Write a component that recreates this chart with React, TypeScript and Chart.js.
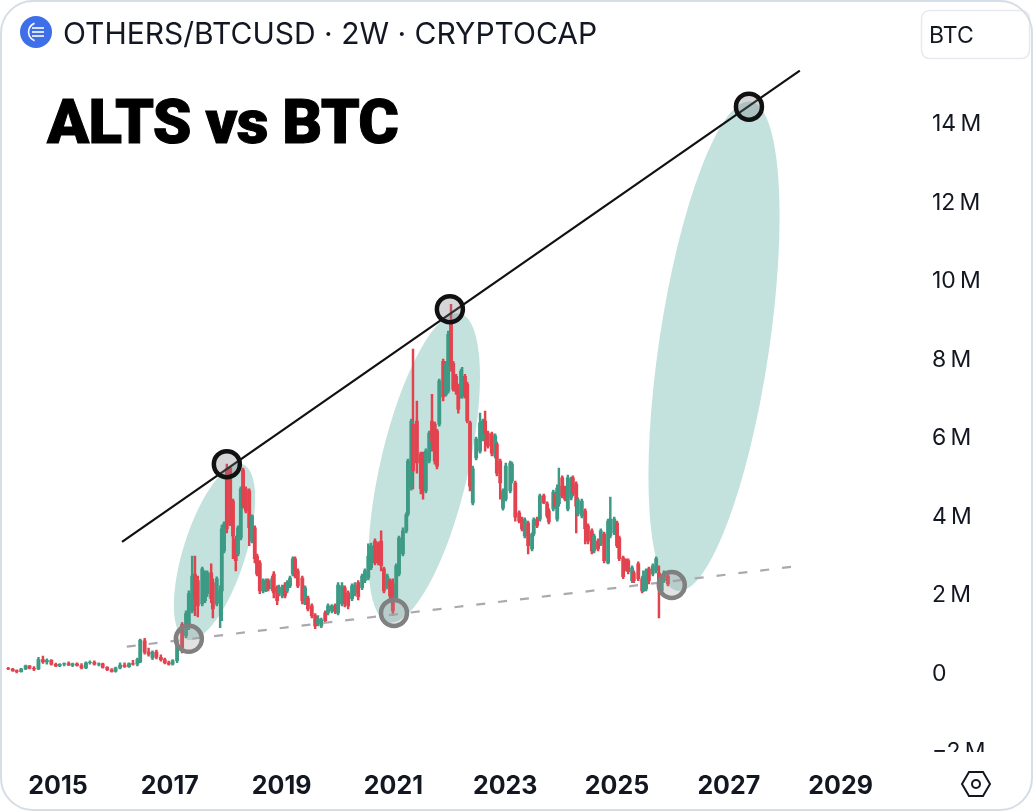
import React, { useEffect, useRef } from "react";
import { Chart, registerables } from "chart.js";

Chart.register(...registerables);

const CHART_TITLE = "OTHERS/BTCUSD · 2W · CRYPTOCAP";
const HEADLINE = "ALTS vs BTC";
const CURRENCY = "BTC";

const xTickYears = [2015, 2017, 2019, 2021, 2023, 2025, 2027, 2029];
const yTickValues = [-2, 0, 2, 4, 6, 8, 10, 12, 14];

const candleYears = [
  2014.11,2014.19,2014.26,2014.34,2014.42,2014.49,2014.57,2014.65,2014.73,2014.80,
  2014.88,2014.96,2015.03,2015.11,2015.19,2015.26,2015.34,2015.42,2015.50,2015.57,
  2015.65,2015.73,2015.80,2015.88,2015.96,2016.03,2016.11,2016.19,2016.27,2016.34,
  2016.42,2016.47,2016.55,2016.62,2016.69,2016.76,2016.84,2016.91,2016.98,2017.05,
  2017.13,2017.22,2017.29,2017.34,2017.40,2017.45,2017.50,2017.58,2017.63,2017.67,
  2017.74,2017.77,2017.84,2017.90,2017.93,2017.97,2018.02,2018.08,2018.13,2018.18,
  2018.22,2018.27,2018.31,2018.36,2018.42,2018.47,2018.52,2018.56,2018.61,2018.67,
  2018.72,2018.76,2018.83,2018.86,2018.92,2018.95,2019.01,2019.06,2019.10,2019.15,
  2019.20,2019.24,2019.29,2019.37,2019.42,2019.47,2019.54,2019.60,2019.65,2019.71,
  2019.78,2019.83,2019.90,2019.96,2020.01,2020.08,2020.13,2020.19,2020.26,2020.31,
  2020.37,2020.44,2020.49,2020.55,2020.60,2020.67,2020.73,2020.78,2020.83,2020.89,
  2020.94,2020.99,2021.05,2021.10,2021.17,2021.23,2021.26,2021.32,2021.35,2021.42,
  2021.49,2021.53,2021.58,2021.64,2021.69,2021.74,2021.78,2021.82,2021.89,2021.94,
  2021.98,2022.03,2022.07,2022.12,2022.16,2022.21,2022.23,2022.28,2022.32,2022.37,
  2022.42,2022.48,2022.55,2022.60,2022.64,2022.69,2022.76,2022.82,2022.85,2022.91,
  2022.96,2023.01,2023.09,2023.12,2023.18,2023.25,2023.30,2023.35,2023.41,2023.48,
  2023.51,2023.57,2023.62,2023.69,2023.75,2023.78,2023.86,2023.89,2023.93,2023.96,
  2024.02,2024.07,2024.12,2024.18,2024.21,2024.27,2024.30,2024.37,2024.43,2024.48,
  2024.55,2024.59,2024.66,2024.71,2024.77,2024.84,2024.88,2024.95,2025.00,2025.04,
  2025.11,2025.16,2025.20,2025.27,2025.30,2025.38,2025.45,2025.47,2025.52,2025.57,
  2025.64,2025.70,2025.75,2025.80,2025.84,2025.91,
];

const candleOpens = [
  .13,.12,.08,.05,.12,.20,.14,.12,.36,.30,
  .34,.24,.20,.24,.26,.22,.25,.21,.15,.28,
  .29,.24,.25,.16,.10,.06,.15,.22,.18,.26,
  .24,.30,.84,.55,.40,.55,.42,.36,.28,.24,
  .33,1.25,.97,1.17,1.60,2.54,2.37,1.78,1.86,2.04,
  2.57,2.32,1.78,1.81,2.11,3.13,5.22,5.24,4.40,3.44,
  3.05,3.46,5.19,4.71,4.66,3.38,3.72,3.00,2.82,2.11,
  2.11,2.37,2.16,2.54,2.19,2.04,1.98,2.26,2.11,2.24,
  2.54,2.93,2.62,2.44,1.78,1.93,1.73,1.48,1.27,1.22,
  1.55,1.55,1.60,1.73,1.55,1.78,2.19,2.06,1.91,2.04,
  2.32,2.19,2.37,2.44,2.70,3.38,3.31,3.38,2.67,2.21,
  2.37,2.29,1.93,2.54,3.05,3.64,4.07,4.73,6.36,6.44,
  5.60,5.60,4.66,5.42,6.44,6.36,6.18,6.36,7.96,7.12,
  7.20,8.98,7.91,7.58,7.33,7.07,7.07,7.58,7.38,6.39,
  4.35,5.50,5.67,5.98,6.44,6.13,6.11,5.55,5.85,5.42,
  4.22,4.45,4.66,4.91,4.86,4.10,3.94,3.51,3.84,3.18,
  3.56,3.94,3.94,4.53,4.33,4.15,4.20,4.58,3.94,4.33,
  4.99,4.73,4.20,4.48,4.99,4.83,4.07,4.02,4.15,3.77,
  3.64,3.13,3.38,3.31,3.56,2.82,3.51,3.59,3.84,3.46,
  2.95,2.88,2.88,2.37,2.57,2.80,2.42,2.11,2.16,2.67,
  2.54,2.62,2.57,2.11,2.37,2.49,
];

const candleHighs = [
  .16,.14,.10,.14,.22,.21,.18,.42,.45,.38,
  .36,.27,.26,.28,.30,.27,.28,.26,.30,.33,
  .33,.28,.27,.18,.13,.17,.28,.28,.28,.34,
  .40,.88,.90,.65,.58,.60,.48,.40,.32,.36,
  .89,1.30,1.60,2.11,3.00,3.00,2.49,2.72,2.62,2.62,
  2.80,2.42,2.47,2.24,3.79,3.87,5.34,5.27,4.45,3.51,
  3.77,4.76,5.24,4.76,4.71,4.05,3.77,3.05,2.88,2.42,
  2.42,2.42,2.49,2.60,2.24,2.26,2.26,2.32,2.37,2.49,
  2.98,2.98,2.67,2.49,2.24,1.98,1.78,1.53,1.48,1.42,
  1.60,1.78,1.76,1.78,2.32,2.32,2.24,2.11,2.29,2.32,
  2.37,2.54,2.67,3.31,3.33,3.44,3.36,3.64,2.72,2.54,
  2.42,2.42,2.80,3.51,3.72,4.10,5.47,6.49,8.27,6.95,
  5.65,5.65,5.73,6.18,7.12,6.41,6.23,7.51,8.02,7.96,
  8.73,9.41,7.96,7.63,7.38,7.76,7.81,7.63,7.43,6.44,
  5.29,6.03,6.64,6.49,6.69,6.18,6.16,6.11,5.90,5.47,
  4.71,5.37,5.42,5.39,4.91,4.15,3.99,3.97,3.89,3.59,
  3.97,3.99,4.58,4.58,4.38,4.20,4.68,4.63,4.81,5.24,
  5.04,4.78,5.06,5.01,5.04,4.89,4.48,4.45,4.20,3.82,
  3.69,3.56,3.44,3.69,3.61,3.94,4.50,3.99,3.89,3.51,
  3.00,2.93,2.93,2.75,2.62,2.85,2.47,2.62,2.67,2.72,
  2.80,2.98,2.75,2.52,2.62,2.57,
];

const candleLows = [
  .10,.06,.02,.04,.10,.12,.08,.10,.26,.24,
  .22,.18,.18,.20,.21,.18,.19,.12,.13,.24,
  .22,.20,.14,.08,.04,.04,.12,.16,.16,.22,
  .20,.28,.50,.45,.36,.38,.32,.25,.22,.22,
  .28,.53,.92,1.12,1.55,1.48,1.45,1.73,1.81,1.96,
  1.81,1.42,1.73,1.17,1.35,3.08,3.59,3.77,2.93,2.62,
  3.00,3.41,4.22,4.10,3.26,3.33,2.82,2.49,2.04,2.06,
  2.09,2.11,2.11,1.93,1.76,1.98,1.93,1.93,2.06,2.19,
  2.49,2.44,2.19,1.78,1.76,1.60,1.42,1.15,1.22,1.17,
  1.30,1.50,1.55,1.53,1.50,1.73,1.70,1.65,1.86,1.98,
  1.88,2.14,2.32,2.39,2.65,2.77,2.77,2.62,2.06,2.16,
  1.91,1.48,1.91,2.49,3.00,3.59,4.02,4.68,4.71,5.11,
  4.58,4.45,4.61,5.37,5.67,5.34,5.22,6.31,6.95,7.07,
  7.15,7.71,7.20,7.12,6.64,7.02,7.02,7.02,6.39,4.66,
  4.30,5.45,5.62,5.93,5.67,5.75,5.55,5.50,5.04,4.45,
  4.17,4.40,4.61,4.86,3.89,3.84,3.64,3.46,3.05,3.13,
  3.51,3.72,3.89,4.33,3.97,3.82,4.15,4.22,3.89,4.27,
  4.48,4.40,4.15,4.43,4.53,3.59,4.02,3.97,3.31,3.31,
  3.05,3.08,3.13,3.26,2.82,2.80,3.46,3.54,3.21,2.88,
  2.42,2.62,2.54,2.32,2.32,2.37,2.06,2.09,2.11,2.29,
  2.49,2.57,1.42,2.06,2.32,2.24,
];

const candleCloses = [
  .12,.08,.05,.12,.20,.14,.12,.36,.30,.34,
  .24,.20,.24,.26,.22,.25,.21,.15,.28,.29,
  .24,.25,.16,.10,.06,.15,.22,.18,.26,.24,
  .36,.86,.55,.50,.55,.42,.36,.28,.24,.33,
  .84,.66,1.53,2.04,2.49,1.93,1.73,2.67,2.57,2.57,
  1.91,1.65,2.42,2.11,3.69,3.82,3.69,3.82,3.51,2.88,
  3.72,4.71,4.27,4.15,3.72,4.02,2.93,2.54,2.11,2.37,
  2.37,2.16,2.42,2.06,1.86,2.19,2.21,1.98,2.32,2.44,
  2.93,2.49,2.24,1.86,2.19,1.65,1.48,1.22,1.40,1.37,
  1.35,1.73,1.73,1.58,2.26,2.24,1.78,1.73,2.24,2.26,
  1.96,2.49,2.62,3.00,3.26,2.82,2.82,2.75,2.11,2.49,
  1.98,1.60,2.75,3.46,3.64,4.05,5.42,6.44,5.17,5.37,
  4.71,4.78,5.67,6.13,5.93,5.42,5.29,7.46,7.05,7.89,
  8.65,7.84,7.25,7.20,6.74,7.71,7.58,7.07,6.44,4.78,
  5.22,5.98,6.39,6.44,6.11,5.80,5.62,6.06,5.11,4.86,
  4.66,5.29,5.37,5.34,3.99,3.89,3.69,3.92,3.26,3.56,
  3.92,3.77,4.53,4.35,4.02,3.87,4.63,4.27,4.73,4.78,
  4.53,4.45,4.99,4.96,4.58,4.27,4.43,4.40,3.69,3.38,
  3.13,3.51,3.18,3.64,2.88,3.89,3.94,3.94,3.26,2.93,
  2.47,2.65,2.60,2.70,2.37,2.42,2.11,2.49,2.62,2.37,
  2.75,2.93,2.16,2.42,2.57,2.29,
];

// Trend lines: [year, price in millions]
const resistanceLine = [{ x: 2016.145, y: 3.36 }, { x: 2028.27, y: 15.37 }];
const supportLine = [{ x: 2016.23, y: 0.69 }, { x: 2028.27, y: 2.75 }];

// Circled touch points
const resistanceTouches = [{ x: 2018.02, y: 5.34 }, { x: 2022.01, y: 9.29 }, { x: 2027.36, y: 14.45 }];
const supportTouches = [{ x: 2017.34, y: 0.89 }, { x: 2021.01, y: 1.55 }, { x: 2025.98, y: 2.26 }];

// Shaded rally zones: long axis ends in [year, price], half-width in years
const rallyZones = [
  { topYear: 2018.30, topPrice: 5.34, bottomYear: 2017.30, bottomPrice: 0.87, halfWidthYears: 0.555 },
  { topYear: 2022.19, topPrice: 9.18, bottomYear: 2020.91, bottomPrice: 1.31, halfWidthYears: 0.787 },
  { topYear: 2027.39, topPrice: 14.58, bottomYear: 2026.08, bottomPrice: 2.11, halfWidthYears: 0.984 },
];

const RED = "#e2434f";
const GREEN = "#3d9a84";
const INK = "#131722";

const candleColor = candleCloses.map((c, i) => (c >= candleOpens[i] ? GREEN : RED));

const decorPlugin = {
  id: "decor",
  beforeDatasetsDraw(chart: any) {
    const { ctx, scales } = chart;
    const { x, y } = scales;
    ctx.save();
    // the price scale is cut off where the time scale strip begins
    ctx.fillStyle = "#ffffff";
    ctx.fillRect(0, 752, chart.width, chart.height - 752);
    // rally zones
    ctx.fillStyle = "#c3e2dd";
    for (const z of rallyZones) {
      const tx = x.getPixelForValue(z.topYear);
      const ty = y.getPixelForValue(z.topPrice);
      const bx = x.getPixelForValue(z.bottomYear);
      const by = y.getPixelForValue(z.bottomPrice);
      const w = x.getPixelForValue(2000 + z.halfWidthYears) - x.getPixelForValue(2000);
      const a = Math.hypot(tx - bx, ty - by) / 2;
      ctx.beginPath();
      ctx.ellipse((tx + bx) / 2, (ty + by) / 2, a, w, Math.atan2(ty - by, tx - bx), 0, Math.PI * 2);
      ctx.fill();
    }
    ctx.restore();
  },
  afterDraw(chart: any) {
    const { ctx } = chart;
    ctx.save();
    // header icon
    ctx.fillStyle = "#3f6fe8";
    ctx.beginPath();
    ctx.arc(36, 32, 16, 0, Math.PI * 2);
    ctx.fill();
    ctx.strokeStyle = "#ffffff";
    ctx.lineWidth = 1.6;
    ctx.beginPath();
    ctx.arc(38, 32, 9.5, Math.PI * 0.62, Math.PI * 1.38);
    ctx.stroke();
    for (const dy of [-4, 0, 4]) {
      ctx.beginPath();
      ctx.moveTo(32, 32 + dy);
      ctx.lineTo(44, 32 + dy);
      ctx.stroke();
    }
    // header text
    ctx.fillStyle = INK;
    ctx.textBaseline = "middle";
    ctx.textAlign = "left";
    ctx.font = "400 30px Inter";
    ctx.fillText(CHART_TITLE, 63, 35);
    ctx.fillStyle = "#000000";
    ctx.strokeStyle = "#000000";
    ctx.lineWidth = 1;
    ctx.font = "900 62px Roboto";
    ctx.letterSpacing = "-0.8px";
    ctx.fillText(HEADLINE, 47, 127);
    ctx.strokeText(HEADLINE, 47, 127);
    ctx.letterSpacing = "0px";
    // currency chip
    ctx.strokeStyle = "#e6e9ee";
    ctx.lineWidth = 1.5;
    ctx.beginPath();
    ctx.roundRect(921.5, 10.5, 108, 48, 8);
    ctx.stroke();
    ctx.fillStyle = INK;
    ctx.font = "400 23px Inter";
    ctx.fillText(CURRENCY, 929, 36);
    // settings hexagon
    ctx.strokeStyle = INK;
    ctx.lineWidth = 2;
    ctx.beginPath();
    for (let i = 0; i < 6; i++) {
      const a = (Math.PI / 3) * i;
      const px = 976 + 14 * Math.cos(a);
      const py = 784 + 14 * Math.sin(a);
      if (i === 0) ctx.moveTo(px, py);
      else ctx.lineTo(px, py);
    }
    ctx.closePath();
    ctx.stroke();
    ctx.beginPath();
    ctx.arc(976, 784, 4, 0, Math.PI * 2);
    ctx.stroke();
    // card frame
    ctx.strokeStyle = "#d5dde6";
    ctx.lineWidth = 2;
    ctx.beginPath();
    ctx.roundRect(1, 1, 1031, 809, 32);
    ctx.stroke();
    ctx.restore();
  },
};

export default function App() {
  const ref = useRef<HTMLCanvasElement | null>(null);

  useEffect(() => {
    if (!ref.current) return;
    const chart = new Chart(ref.current, {
      type: "bar",
      plugins: [decorPlugin],
      data: {
        datasets: [
          {
            type: "scatter",
            label: "Resistance touches",
            data: resistanceTouches,
            pointRadius: 13,
            pointBorderWidth: 4.5,
            pointBorderColor: "#111111",
            pointBackgroundColor: "rgba(120,120,125,0.3)",
          },
          {
            type: "scatter",
            label: "Support touches",
            data: supportTouches,
            pointRadius: 13,
            pointBorderWidth: 4.5,
            pointBorderColor: "#808080",
            pointBackgroundColor: "rgba(150,150,150,0.28)",
          },
          {
            type: "line",
            label: "Resistance",
            data: resistanceLine,
            borderColor: "#111111",
            borderWidth: 2.2,
            pointRadius: 0,
          },
          {
            type: "line",
            label: "Support",
            data: supportLine,
            borderColor: "#a9a9b0",
            borderWidth: 2.2,
            borderDash: [9, 13],
            pointRadius: 0,
          },
          {
            type: "bar",
            label: "Body",
            data: candleYears.map((x, i) => ({ x, y: [candleOpens[i], candleCloses[i]] })),
            backgroundColor: candleColor,
            barThickness: 3.2,
            grouped: false,
          },
          {
            type: "bar",
            label: "Wick",
            data: candleYears.map((x, i) => ({ x, y: [candleLows[i], candleHighs[i]] })),
            backgroundColor: candleColor,
            barThickness: 1.8,
            grouped: false,
          },
        ] as any,
      },
      options: {
        animation: false,
        responsive: false,
        layout: { padding: 0, autoPadding: false },
        plugins: { legend: { display: false }, tooltip: { enabled: false }, title: { display: false } },
        scales: {
          x: {
            type: "linear",
            offset: false,
            min: 2013.962,
            max: 2030.42,
            afterFit: (s: any) => { s.height = 59; },
            afterBuildTicks: (s: any) => { s.ticks = xTickYears.map((value) => ({ value })); },
            grid: { display: false, drawTicks: false, offset: false },
            border: { display: false },
            ticks: {
              z: 1,
              padding: 19,
              maxRotation: 0,
              autoSkip: false,
              color: INK,
              font: { family: "Inter", size: 25, weight: "bold" },
              callback: (v: any) => String(v),
            },
          },
          y: {
            type: "linear",
            position: "right",
            min: -1.995,
            max: 16.51,
            afterFit: (s: any) => { s.width = 113; },
            afterBuildTicks: (s: any) => { s.ticks = yTickValues.map((value) => ({ value })); },
            grid: { display: false, drawTicks: false },
            border: { display: false },
            ticks: {
              padding: 12,
              crossAlign: "near",
              color: INK,
              font: { family: "Inter", size: 23 },
              callback: (v: any) => (v === 0 ? "0" : `${v < 0 ? "\u2212" : ""}${Math.abs(v)}\u2009M`),
            },
          },
        },
      } as any,
    });
    return () => chart.destroy();
  }, []);

  return (
    <div style={{ position: "absolute", left: 0, top: 0, width: 1033, height: 811, background: "#fff" }}>
      <canvas ref={ref} width={1033} height={811} style={{ display: "block" }} />
    </div>
  );
}
